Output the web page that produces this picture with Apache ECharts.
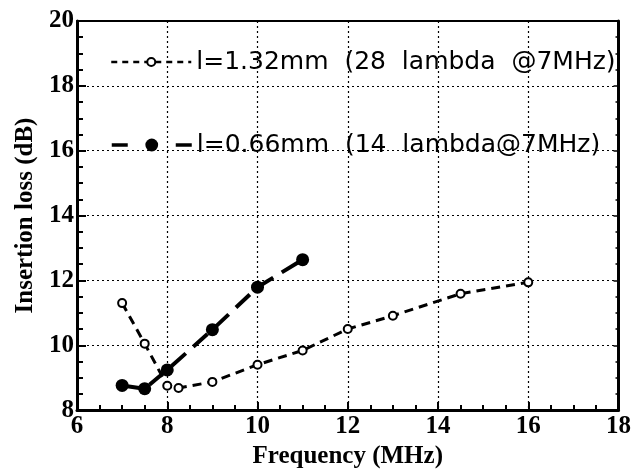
<!DOCTYPE html>
<html>
<head>
<meta charset="utf-8">
<script src="https://cdn.jsdelivr.net/npm/echarts@6/dist/echarts.min.js"></script>
<style>
  html, body { margin: 0; padding: 0; background: #fff; }
  #chart { width: 634px; height: 474px; }
</style>
</head>
<body>
<div id="chart"></div>
<script>
// Insertion loss vs. frequency for two line lengths
const freqLong = [7, 7.5, 8, 8.25, 9, 10, 11, 12, 13, 14.5, 16];
const lossLong = [11.3, 10.05, 8.75, 8.68, 8.87, 9.4, 9.84, 10.5, 10.91, 11.59, 11.94];

const freqShort = [7, 7.5, 8, 9, 10, 11];
const lossShort = [8.76, 8.66, 9.24, 10.48, 11.79, 12.64];

const nameLong = 'l=1.32mm  (28  lambda  @7MHz)';
const nameShort = 'l=0.66mm  (14  lambda@7MHz)';

const xTicks = [6, 8, 10, 12, 14, 16, 18];
const yTicks = [8, 10, 12, 14, 16, 18, 20];

const serif = '"Liberation Serif", "DejaVu Serif", serif';
const sans = '"DejaVu Sans", "Liberation Sans", sans-serif';

const pairs = (xs, ys) => xs.map((x, i) => [x, ys[i]]);

const chart = echarts.init(document.getElementById('chart'), null, { renderer: 'canvas' });

const gridLine = { show: true, lineStyle: { color: '#000', width: 1.2, type: [2, 3] } };
const frameLine = { show: true, onZero: false, lineStyle: { color: '#000', width: 3 } };
const labelFont = { fontFamily: serif, fontSize: 25, fontWeight: 'bold', color: '#000' };

chart.setOption({
  animation: false,
  backgroundColor: '#fff',
  grid: { left: 77, right: 13, top: 21, bottom: 57, containLabel: false },
  xAxis: [
    {
      type: 'value', min: xTicks[0], max: xTicks[xTicks.length - 1], interval: 2,
      name: 'Frequency (MHz)', nameLocation: 'middle', nameGap: 30,
      nameTextStyle: labelFont,
      axisLine: frameLine,
      axisTick: { show: true, inside: true, length: 8, lineStyle: { color: '#000', width: 2 } },
      minorTick: { show: true, splitNumber: 4, length: 5, lineStyle: { color: '#000', width: 2 } },
      axisLabel: Object.assign({ margin: 4 }, labelFont),
      splitLine: gridLine
    },
    {
      type: 'value', position: 'top', min: xTicks[0], max: xTicks[xTicks.length - 1], interval: 2,
      axisLine: { show: true, onZero: false, lineStyle: { color: '#000', width: 2 } },
      axisTick: { show: false }, axisLabel: { show: false }, splitLine: { show: false }
    }
  ],
  yAxis: [
    {
      type: 'value', min: yTicks[0], max: yTicks[yTicks.length - 1], interval: 2,
      name: 'Insertion loss (dB)', nameLocation: 'middle', nameGap: 38, nameRotate: 90,
      nameTextStyle: labelFont,
      axisLine: frameLine,
      axisTick: { show: true, inside: true, length: 9, lineStyle: { color: '#000', width: 2 } },
      minorTick: { show: true, splitNumber: 4, length: 6, lineStyle: { color: '#000', width: 2 } },
      axisLabel: Object.assign({ margin: 3 }, labelFont),
      splitLine: gridLine
    },
    {
      type: 'value', position: 'right', min: yTicks[0], max: yTicks[yTicks.length - 1], interval: 2,
      axisLine: { show: true, onZero: false, lineStyle: { color: '#000', width: 3 } },
      axisTick: { show: true, inside: true, length: 5, lineStyle: { color: '#000', width: 1.5 } },
      minorTick: { show: true, splitNumber: 4, length: 3, lineStyle: { color: '#000', width: 1.5 } },
      axisLabel: { show: false }, splitLine: { show: false }
    }
  ],
  legend: [
    {
      data: [nameLong], left: 110, top: 48, padding: 0, orient: 'vertical',
      itemWidth: 80, itemHeight: 10, itemGap: 0,
      selectedMode: false,
      lineStyle: { type: [6, 5], width: 2.5, color: '#000' },
      textStyle: { fontFamily: sans, fontSize: 25, color: '#000', lineHeight: 28 }
    },
    {
      data: [nameShort], left: 110, top: 131, padding: 0, orient: 'vertical',
      itemWidth: 80, itemHeight: 16, itemGap: 0,
      selectedMode: false,
      lineStyle: { type: [16, 48], width: 3.5, color: '#000' },
      textStyle: { fontFamily: sans, fontSize: 25, color: '#000', lineHeight: 28 }
    }
  ],
  series: [
    {
      name: nameLong, type: 'line', data: pairs(freqLong, lossLong),
      symbol: 'circle', symbolSize: 8,
      itemStyle: { color: '#fff', borderColor: '#000', borderWidth: 2 },
      lineStyle: { color: '#000', width: 3, type: [9, 6] },
      z: 3
    },
    {
      name: nameShort, type: 'line', data: pairs(freqShort, lossShort),
      symbol: 'circle', symbolSize: 13,
      itemStyle: { color: '#000', borderColor: '#000', borderWidth: 0 },
      lineStyle: { color: '#000', width: 4, type: [19, 10] },
      z: 4
    }
  ]
});
</script>
</body>
</html>
